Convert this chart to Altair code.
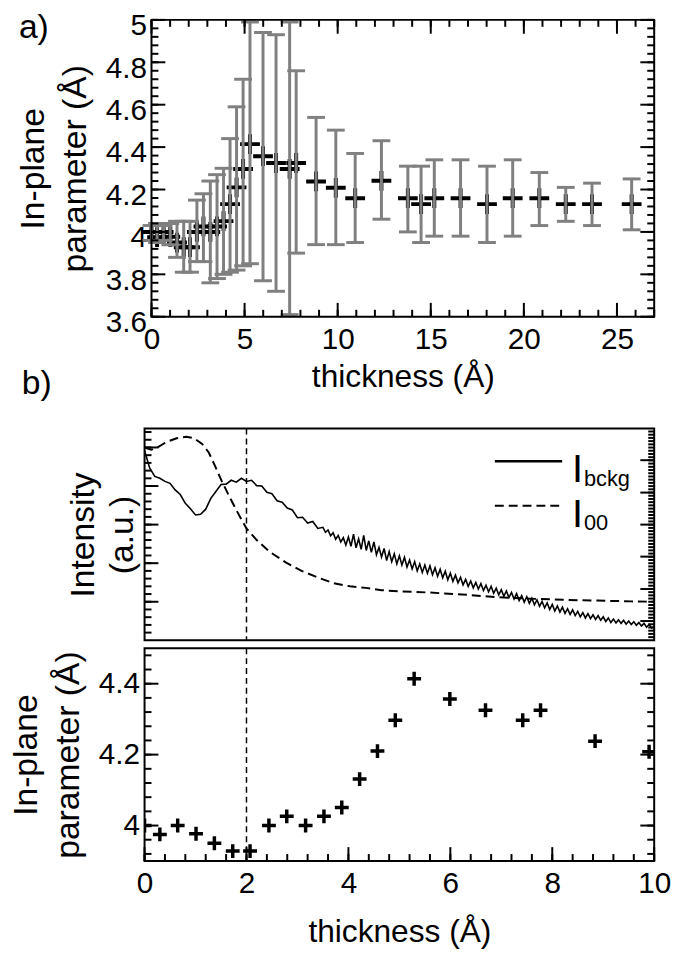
import altair as alt
import pandas as pd
import numpy as np

# ---------------- data ----------------
# panel a: in-plane parameter vs thickness, with error bars
thk = [0.00, 0.30, 0.65, 1.01, 1.37, 1.73, 2.07, 2.44, 2.79, 3.16, 3.52, 3.87,
       4.22, 4.57, 4.92, 5.29, 5.99, 6.69, 7.42, 7.77, 8.84, 9.90,
       10.94, 12.35, 13.77, 14.48, 15.19, 16.60, 18.02, 19.40, 20.83, 22.25, 23.66, 25.79]
par = [4.000, 3.975, 4.000, 3.977, 3.950, 3.928, 3.928, 4.000, 4.026, 4.000, 4.026, 4.051,
       4.131, 4.210, 4.297, 4.414, 4.357, 4.325, 4.297, 4.325, 4.238, 4.208,
       4.159, 4.241, 4.159, 4.131, 4.159, 4.159, 4.131, 4.159, 4.159, 4.131, 4.131, 4.131]
par_hi = [4.03, 4.04, 4.03, 4.04, 4.05, 4.05, 4.05, 4.15, 4.18, 4.24, 4.27, 4.30,
          4.44, 4.59, 4.72, 4.99, 4.94, 4.93, 4.99, 4.76, 4.54, 4.48,
          4.37, 4.43, 4.31, 4.31, 4.34, 4.34, 4.31, 4.34, 4.28, 4.21, 4.23, 4.25]
par_lo = [3.96, 3.95, 3.96, 3.94, 3.88, 3.81, 3.81, 3.86, 3.86, 3.76, 3.78, 3.80,
          3.81, 3.82, 3.84, 3.85, 3.77, 3.72, 3.61, 3.90, 3.94, 3.94,
          3.95, 4.06, 4.00, 3.95, 3.98, 3.98, 3.95, 3.98, 4.03, 4.05, 4.03, 4.01]

# panel b top: intensities (a.u.)
bckg_x = [0.0, 0.1, 0.2, 0.3, 0.4, 0.5, 0.6, 0.7, 0.8, 0.9, 1.0, 1.1, 1.2, 1.3, 1.4, 1.5,
          1.6, 1.7, 1.8, 1.9, 2.0, 2.1, 2.2, 2.3, 2.4, 2.5, 2.6, 2.7, 2.8, 2.9, 3.0, 3.1,
          3.2, 3.3, 3.4,
          3.50, 3.55, 3.60, 3.65, 3.70, 3.75, 3.80, 3.85, 3.90, 3.95,
          4.00, 4.05, 4.10, 4.15, 4.20, 4.25, 4.30, 4.35, 4.40, 4.45,
          4.50, 4.55, 4.60, 4.65, 4.70, 4.75, 4.80, 4.85, 4.90, 4.95,
          5.00, 5.05, 5.10, 5.15, 5.20, 5.25, 5.30, 5.35, 5.40, 5.45,
          5.50, 5.55, 5.60, 5.65, 5.70, 5.75, 5.80, 5.85, 5.90, 5.95,
          6.00, 6.05, 6.10, 6.15, 6.20, 6.25, 6.30, 6.35, 6.40, 6.45,
          6.50, 6.55, 6.60, 6.65, 6.70, 6.75, 6.80, 6.85, 6.90, 6.95,
          7.00, 7.05, 7.10, 7.15, 7.20, 7.25, 7.30, 7.35, 7.40, 7.45,
          7.50, 7.55, 7.60, 7.65, 7.70, 7.75, 7.80, 7.85, 7.90, 7.95,
          8.00, 8.05, 8.10, 8.15, 8.20, 8.25, 8.30, 8.35, 8.40, 8.45,
          8.50, 8.55, 8.60, 8.65, 8.70, 8.75, 8.80, 8.85, 8.90, 8.95,
          9.00, 9.05, 9.10, 9.15, 9.20, 9.25, 9.30, 9.35, 9.40, 9.45,
          9.50, 9.55, 9.60, 9.65, 9.70, 9.75, 9.80, 9.85, 9.90, 9.95, 10.00]
bckg_y = [4.92, 4.47, 4.25, 4.20, 4.12, 4.07, 3.90, 3.78, 3.55, 3.41, 3.25, 3.27, 3.40, 3.68, 3.86, 4.04,
          4.05, 4.15, 4.10, 4.20, 4.12, 4.15, 4.01, 4.00, 3.84, 3.80, 3.62, 3.58, 3.43, 3.38, 3.18, 3.19,
          3.04, 3.08, 2.90,
          2.93, 2.80, 2.86, 2.71, 2.79, 2.62, 2.72, 2.55, 2.66, 2.47,
          2.68, 2.44, 2.75, 2.40, 2.63, 2.36, 2.72, 2.33, 2.58, 2.28,
          2.55, 2.22, 2.41, 2.16, 2.38, 2.07, 2.30, 2.04, 2.24, 1.98,
          2.19, 1.95, 2.15, 1.90, 2.08, 1.85, 2.04, 1.80, 1.98, 1.76,
          1.95, 1.74, 1.93, 1.70, 1.88, 1.66, 1.84, 1.62, 1.79, 1.57,
          1.74, 1.53, 1.69, 1.49, 1.63, 1.44, 1.58, 1.40, 1.54, 1.36,
          1.50, 1.33, 1.47, 1.29, 1.43, 1.26, 1.40, 1.22, 1.35, 1.18,
          1.31, 1.14, 1.28, 1.11, 1.24, 1.07, 1.21, 1.03, 1.16, 0.99,
          1.13, 0.96, 1.09, 0.92, 1.05, 0.88, 1.01, 0.84, 0.97, 0.80,
          0.93, 0.76, 0.89, 0.73, 0.86, 0.70, 0.82, 0.67, 0.79, 0.64,
          0.75, 0.61, 0.72, 0.58, 0.69, 0.56, 0.66, 0.54, 0.64, 0.52,
          0.61, 0.49, 0.58, 0.46, 0.55, 0.45, 0.53, 0.44, 0.52, 0.42,
          0.50, 0.41, 0.48, 0.39, 0.46, 0.37, 0.44, 0.34, 0.41, 0.32, 0.35]
i00_x = [0.0, 0.13, 0.25, 0.44, 0.63, 0.82, 0.97, 1.13, 1.26, 1.38, 1.51, 1.67, 1.82, 2.0,
         2.2, 2.45, 2.77, 3.08, 3.4, 3.71, 4.03, 4.34, 4.65, 4.97, 5.57, 6.23, 6.9, 7.56,
         8.22, 8.88, 9.55, 10.0]
i00_y = [5.00, 4.94, 5.00, 5.15, 5.24, 5.28, 5.24, 5.09, 4.87, 4.53, 4.14, 3.71, 3.33, 2.90,
         2.60, 2.30, 2.02, 1.80, 1.63, 1.48, 1.40, 1.36, 1.30, 1.27, 1.24, 1.19, 1.12, 1.08,
         1.05, 1.03, 1.01, 1.00]
vline_x = [2.0]

# tick values
xa_maj = [0, 5, 10, 15, 20, 25]
xa_min = list(range(0, 28))
ya_maj = [3.6, 3.8, 4.0, 4.2, 4.4, 4.6, 4.8, 5.0]
ya_min = [round(3.6 + 0.04 * i, 2) for i in range(36)]
yi_maj = [1, 2, 3, 4, 5]
yi_min = [round(0.2 * i, 2) for i in range(1, 28)]
yr_maj = [0.5, 1.33, 2.17, 3.0, 3.83, 4.67]
yr_min = [round(v, 3) for v in np.arange(0.0833, 5.49, 0.0833)]
xb_maj = [0, 2, 4, 6, 8, 10]
xb_min = [round(0.4 * i, 1) for i in range(26)]
yp_maj = [4.0, 4.2, 4.4]
yp_min = [round(3.92 + 0.04 * i, 2) for i in range(15)]

# ---------------- style ----------------
FONT = "Liberation Sans"
FS_LAB = 30
FS_TIT = 32
FS_YT = 34
GRAY = "#808080"
CROSS = "M-1,0L1,0M0,-1L0,1"
MAJ, MINT = 14, 7
LEFT = 136                  # room left of the plots for y labels and titles

SH = 7                      # panel a plot starts 7px right of panel b plot
W_A, H_A = 515, 300         # panel a plot spans x = SH..W_A
W_B, H_I, H_P = 515, 214, 215


def x_label_axis(values, title_pad):
    return alt.Axis(orient="bottom", values=values, ticks=False, domain=False, grid=False,
                    labelFont=FONT, labelFontSize=FS_LAB, labelColor="black", labelPadding=8,
                    labelFlush=False, labelOverlap=False, format="~r",
                    title="thickness (Å)", titleFont=FONT, titleFontSize=FS_TIT,
                    titleFontWeight="normal", titleColor="black", titlePadding=title_pad)


def y_label_axis(values, title, offset=0, label_offset=0):
    return alt.Axis(orient="left", values=values, ticks=False, domain=False, grid=False, offset=offset,
                    labelFont=FONT, labelFontSize=FS_LAB, labelColor="black", labelPadding=5,
                    labelOffset=label_offset,
                    labelFlush=False, labelOverlap=False, format="~r", minExtent=50, maxExtent=50,
                    title=title, titleFont=FONT, titleFontSize=FS_YT, titleFontWeight="normal",
                    titleColor="black", titlePadding=10, titleLineHeight=42)


def xticks(values, scale, y0, y1):
    return alt.Chart(pd.DataFrame({"v": values})).mark_rule(color="black", strokeWidth=2).encode(
        x=alt.X("v:Q", scale=scale, axis=None), y=alt.value(y0), y2=alt.value(y1))


def yticks(values, scale, x0, x1):
    return alt.Chart(pd.DataFrame({"v": values})).mark_rule(color="black", strokeWidth=2).encode(
        y=alt.Y("v:Q", scale=scale, axis=None), x=alt.value(x0), x2=alt.value(x1))


def text_at(s, x, y, size, align="left"):
    return alt.Chart(pd.DataFrame({"s": [s]})).mark_text(
        font=FONT, fontSize=size, align=align, baseline="alphabetic", color="black").encode(
        x=alt.value(x), y=alt.value(y), text="s:N")


def anchor():
    # a white 1px mark that fixes the left edge of every panel's bounds
    return alt.Chart(pd.DataFrame({"k": [0]})).mark_rule(color="white", strokeWidth=1).encode(
        x=alt.value(-LEFT), y=alt.value(100), y2=alt.value(101))


# ---------------- panel a ----------------
df_a = pd.DataFrame({"t": thk, "p": par, "hi": par_hi, "lo": par_lo})
xa = alt.Scale(domain=[0, 27], range=[SH, W_A], nice=False, zero=False)
ya = alt.Scale(domain=[3.6, 5.0], nice=False, zero=False)

ba = alt.Chart(df_a)
a_pts = ba.mark_point(shape=CROSS, size=400, filled=False, stroke="black", strokeWidth=4, opacity=1).encode(
    x=alt.X("t:Q", scale=xa, axis=x_label_axis(xa_maj, 8)),
    y=alt.Y("p:Q", scale=ya, axis=y_label_axis(ya_maj, ["In-plane", "parameter (Å)"], offset=-SH, label_offset=6)),
)
a_err = ba.mark_rule(color=GRAY, strokeWidth=3).encode(
    x=alt.X("t:Q", scale=xa, axis=None),
    y=alt.Y("lo:Q", scale=ya, axis=None),
    y2="hi:Q",
)
a_caph = ba.mark_tick(color=GRAY, orient="horizontal", size=18, thickness=3, opacity=1).encode(
    x=alt.X("t:Q", scale=xa, axis=None), y=alt.Y("hi:Q", scale=ya, axis=None))
a_capl = ba.mark_tick(color=GRAY, orient="horizontal", size=18, thickness=3, opacity=1).encode(
    x=alt.X("t:Q", scale=xa, axis=None), y=alt.Y("lo:Q", scale=ya, axis=None))

a_ticks = [
    xticks(xa_maj, xa, H_A, H_A - MAJ), xticks(xa_min, xa, H_A, H_A - MINT),
    xticks(xa_maj, xa, 0, MAJ), xticks(xa_min, xa, 0, MINT),
    yticks(ya_maj, ya, SH, SH + MAJ), yticks(ya_min, ya, SH, SH + MINT),
    yticks(ya_maj, ya, W_A, W_A - MAJ), yticks(ya_min, ya, W_A, W_A - MINT),
]
a_frame = alt.Chart(pd.DataFrame({"k": [0]})).mark_rect(
    fillOpacity=0, stroke="black", strokeWidth=2).encode(
    x=alt.value(SH), x2=alt.value(W_A), y=alt.value(0), y2=alt.value(H_A))

panel_a = alt.layer(
    a_pts, a_err, a_caph, a_capl, *a_ticks, a_frame,
    text_at("a)", SH - 134, 18, 34), text_at("b)", -124, 378, 34), anchor(),
).resolve_axis(x="independent", y="independent").properties(
    width=W_A, height=H_A, view=alt.ViewBackground(stroke="transparent"))

# ---------------- panel b: intensity ----------------
xb = alt.Scale(domain=[0, 10], nice=False, zero=False)
yi = alt.Scale(domain=[0, 5.49], nice=False, zero=False)

df_bk = pd.DataFrame({"t": bckg_x, "v": bckg_y})
df_i0 = pd.DataFrame({"t": i00_x, "v": i00_y})
df_vl = pd.DataFrame({"t": vline_x})

i_bk = alt.Chart(df_bk).mark_line(color="black", strokeWidth=1.6, clip=True).encode(
    x=alt.X("t:Q", scale=xb, axis=None),
    y=alt.Y("v:Q", scale=yi, axis=alt.Axis(orient="left", labels=False, ticks=False, domain=False, grid=False,
                                           minExtent=0, maxExtent=0, title=["Intensity", "(a.u.)"],
                                           titleFont=FONT, titleFontSize=FS_YT, titleFontWeight="normal",
                                           titleColor="black", titlePadding=5, titleLineHeight=40)),
)
i_00 = alt.Chart(df_i0).mark_line(color="black", strokeWidth=2, strokeDash=[9, 5], clip=True).encode(
    x=alt.X("t:Q", scale=xb, axis=None), y=alt.Y("v:Q", scale=yi, axis=None))
i_vl = alt.Chart(df_vl).mark_rule(color="black", strokeWidth=1.5, strokeDash=[6, 4]).encode(
    x=alt.X("t:Q", scale=xb, axis=None))
i_ticks = [
    yticks(yi_maj, yi, 0, MAJ), yticks(yi_min, yi, 0, MINT),
    yticks(yr_maj, yi, W_B, W_B - MAJ), yticks(yr_min, yi, W_B, W_B - 6),
]
leg = pd.DataFrame({"k": [0]})
leg_l1 = alt.Chart(leg).mark_rule(color="black", strokeWidth=2.5).encode(
    x=alt.value(354), x2=alt.value(422), y=alt.value(33))
leg_l2 = alt.Chart(leg).mark_rule(color="black", strokeWidth=2, strokeDash=[9, 5]).encode(
    x=alt.value(354), x2=alt.value(422), y=alt.value(78))

panel_i = alt.layer(
    i_bk, i_00, i_vl, *i_ticks, leg_l1, leg_l2,
    text_at("I", 432, 54, 40), text_at("bckg", 444, 58, 22),
    text_at("I", 432, 99, 40), text_at("00", 444, 103, 22), anchor(),
).resolve_axis(x="independent", y="independent").properties(width=W_B, height=H_I)

# ---------------- panel b: parameter ----------------
df_b = pd.DataFrame({"t": thk[:22], "p": par[:22]})
yp = alt.Scale(domain=[3.9, 4.5], nice=False, zero=False)

p_pts = alt.Chart(df_b).mark_point(shape=CROSS, size=196, filled=False, stroke="black", strokeWidth=3.5,
                                   opacity=1, clip=True).encode(
    x=alt.X("t:Q", scale=xb, axis=x_label_axis(xb_maj, 18)),
    y=alt.Y("p:Q", scale=yp, axis=y_label_axis(yp_maj, ["In-plane", "parameter (Å)"])),
)
p_vl = alt.Chart(df_vl).mark_rule(color="black", strokeWidth=1.5, strokeDash=[6, 4]).encode(
    x=alt.X("t:Q", scale=xb, axis=None))
p_ticks = [
    xticks(xb_maj, xb, H_P, H_P - MAJ), xticks(xb_min, xb, H_P, H_P - MINT),
    yticks(yp_maj, yp, 0, MAJ), yticks(yp_min, yp, 0, MINT),
    yticks(yp_maj, yp, W_B, W_B - MAJ), yticks(yp_min, yp, W_B, W_B - MINT),
]
panel_p = alt.layer(p_pts, p_vl, *p_ticks, anchor()).resolve_axis(
    x="independent", y="independent").properties(width=W_B, height=H_P)

panel_b = alt.ConcatChart(concat=[panel_i, panel_p], columns=1, align="none", spacing=4)

chart = alt.ConcatChart(concat=[panel_a, panel_b], columns=1, align="none", spacing=25).properties(
    padding={"left": 0, "top": -3, "right": 0, "bottom": 3}
).configure(font=FONT, background="white").configure_view(stroke="black", strokeWidth=2)

chart.save("out.html", embed_options={"renderer": "svg", "actions": False})
